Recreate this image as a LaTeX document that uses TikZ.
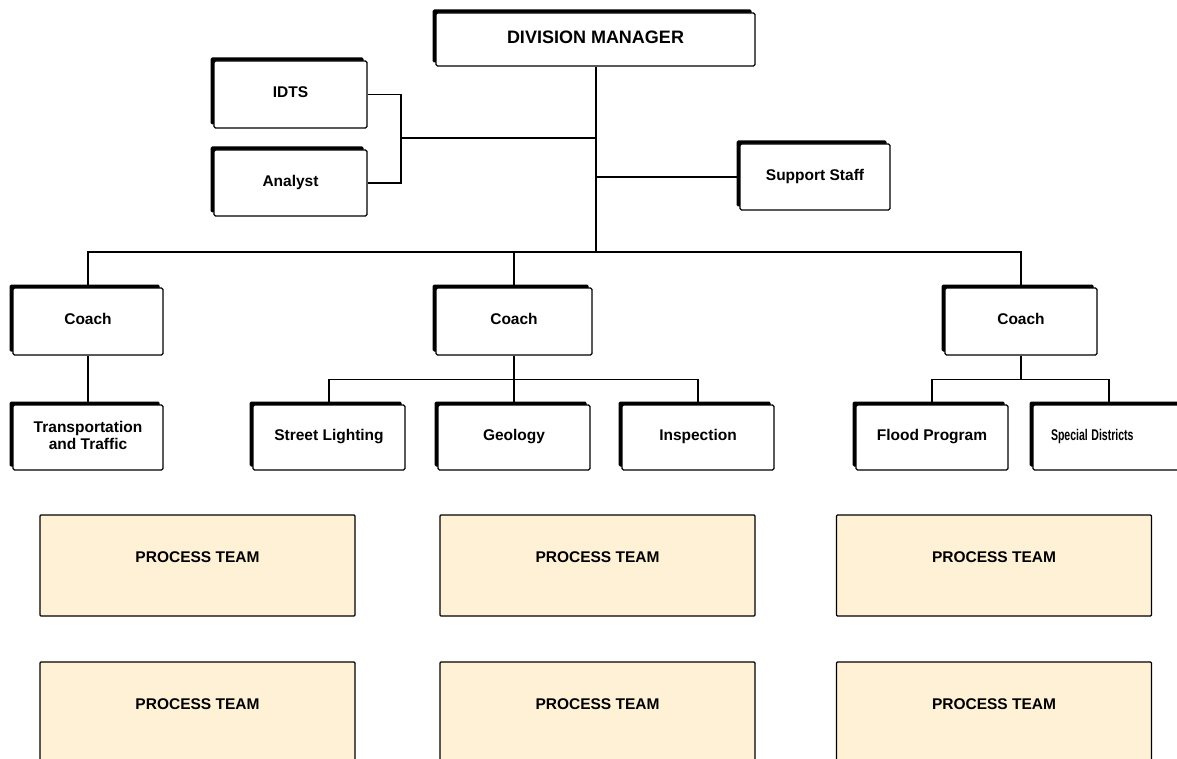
\documentclass[tikz,border=0pt]{standalone}
\usepackage{fontspec}
\setmainfont{Liberation Sans}
\usepackage{graphicx}
\usepackage{tikz}
\usetikzlibrary{shadows}
\usepackage{xcolor}
\definecolor{teamfill}{RGB}{255,241,214}

\begin{document}
\begin{tikzpicture}[
    x=1pt, y=-1pt,
    block/.style={
        rectangle,
        draw=black,
        fill=white,
        line width=1.3pt,
        rounded corners=1.5pt,
        align=center,
        inner sep=2pt,
        minimum width=152pt,
        minimum height=66pt,
        text depth=5pt,
        font=\fontsize{15.5}{17}\selectfont\bfseries,
        general shadow={fill=black, shadow xshift=-3.5pt, shadow yshift=3.5pt}
    },
    team/.style={
        rectangle,
        draw=black,
        fill=teamfill,
        line width=1.3pt,
        rounded corners=1pt,
        minimum width=315pt,
        minimum height=101pt,
        text depth=16pt,
        font=\fontsize{15.5}{17}\selectfont\bfseries
    },
    link/.style={
        line width=1.6pt,
        draw=black
    }
]
    \useasboundingbox (0,0) rectangle (1177,759);

    % Nodes
    \node (manager) [block, minimum width=319pt, minimum height=53pt,
        font=\fontsize{18}{20}\selectfont\bfseries] at (595.5,39.5) {DIVISION MANAGER};
    \node (idts)    [block, minimum width=153pt, minimum height=67pt] at (290.5,94.5) {IDTS};
    \node (analyst) [block, minimum width=153pt] at (290.5,183) {Analyst};
    \node (support) [block, minimum width=150pt] at (815,177) {Support Staff};

    \node (coachA) [block, minimum width=150pt, minimum height=67pt] at (88,321.5)   {Coach};
    \node (coachB) [block, minimum width=156pt, minimum height=67pt] at (514,321.5)  {Coach};
    \node (coachC) [block, minimum width=152pt, minimum height=67pt] at (1021,321.5) {Coach};

    \node (traffic)  [block, minimum width=150pt, minimum height=65pt] at (88,437.5)  {Transportation\\and Traffic};
    \node (lighting) [block, minimum height=65pt] at (329,437.5)  {Street Lighting};
    \node (geology)  [block, minimum height=65pt] at (514,437.5)  {Geology};
    \node (inspect)  [block, minimum height=65pt] at (698,437.5)  {Inspection};
    \node (flood)    [block, minimum height=65pt] at (932,437.5)  {Flood Program};
    \node (special)  [block, minimum height=65pt, text width=116pt, align=left] at (1109,437.5)
        {\scalebox{0.68}[1]{Special Districts}};

    % Process teams
    \node (teamA1) [team] at (197.5,565.5) {PROCESS TEAM};
    \node (teamB1) [team] at (597.5,565.5) {PROCESS TEAM};
    \node (teamC1) [team] at (994,565.5)   {PROCESS TEAM};
    \node (teamA2) [team] at (197.5,712.5) {PROCESS TEAM};
    \node (teamB2) [team] at (597.5,712.5) {PROCESS TEAM};
    \node (teamC2) [team] at (994,712.5)   {PROCESS TEAM};

    % Connectors
    \coordinate (trunk) at (596,252);
    \coordinate (bracket) at (401,138);
    \draw [link] (manager.south -| trunk) -- (trunk);
    \draw [link] (idts.east) -| (bracket) |- (analyst.east);
    \draw [link] (bracket) -- (bracket -| trunk);
    \draw [link] (support.west) -- (support.west -| trunk);

    \draw [link] (coachA.north) |- (trunk) -| (coachC.north);
    \draw [link] (coachB.north) -- (coachB.north |- trunk);

    \draw [link] (coachA) -- (traffic);

    \draw [link] (coachB.south) -- ++(0,24) coordinate (subB);
    \draw [link] (lighting.north) |- (subB) -| (inspect.north);
    \draw [link] (subB) -- (geology.north);

    \draw [link] (coachC.south) -- ++(0,24) coordinate (subC);
    \draw [link] (flood.north) |- (subC) -| (special.north);

\end{tikzpicture}
\end{document}
